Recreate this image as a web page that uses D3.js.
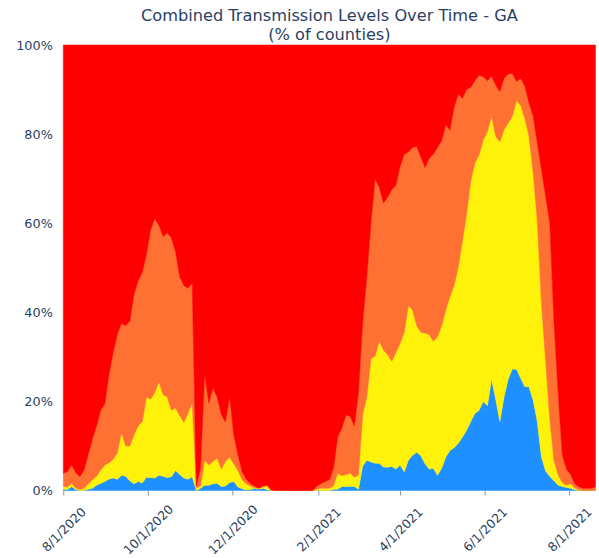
<!DOCTYPE html>
<html>
<head>
<meta charset="utf-8">
<script src="https://cdn.jsdelivr.net/npm/d3@7"></script>
<style>
    body { margin: 0; background: #fff; }
    #wrapper svg text { font-family: "DejaVu Sans", sans-serif; fill: #2a3f5f; }
</style>
</head>
<body>
<div id="wrapper"></div>
<script>
// Andel av countys per smittnivå (%), ett värde var tredje dag från 8/1/2020
const startDate = new Date(2020, 7, 1);
const stepDays = 3;

const low = [0.3, 0.2, 0.9, 0.2, 0, 0, 0.3, 0.5, 1.2, 1.6,
    2.0, 2.6, 2.8, 2.5, 3.4, 3.2, 2.2, 1.5, 2.0, 1.7,
    3.0, 2.9, 2.8, 3.4, 3.2, 2.9, 3.1, 4.5, 3.6, 2.8,
    2.5, 3.1, 0, 0.5, 1.2, 1.2, 1.5, 1.6, 0.9, 1.0,
    1.8, 2.0, 0.8, 0.4, 0.1, 0.2, 0.5, 0.3, 0.5, 0.2,
    0, 0, 0, 0, 0, 0, 0, 0, 0, 0,
    0, 0, 0, 0, 0, 0.3, 0.3, 0.9, 0.9, 0.9,
    0.9, 0.3, 5.5, 6.8, 6.4, 6.1, 6.1, 5.3, 5.2, 5.4,
    4.8, 5.7, 4.2, 6.8, 7.9, 8.6, 7.8, 6.0, 4.8, 5.0,
    3.4, 5.0, 7.5, 9.0, 9.6, 10.6, 12.0, 13.5, 15.5, 17.3,
    18.0, 20.0, 19.0, 25.0, 20.5, 15.5, 21.0, 25.0, 27.3, 27.2,
    25.2, 23.3, 23.3, 20.3, 15.5, 7.5, 4.4, 3.2, 2.2, 1.2,
    0.9, 0.7, 0.5, 0.2, 0, 0, 0, 0, 0];

const moderate = [0.6, 0.6, 0.7, 0.3, 0.2, 0.5, 1.2, 1.9, 2.0, 3.0,
    3.7, 3.6, 4.2, 6.0, 9.6, 6.8, 7.8, 11.0, 12.5, 13.8,
    18.0, 17.6, 19.2, 21.0, 18.3, 18.1, 14.9, 14.0, 13.2, 12.5,
    14.9, 16.5, 0.5, 0.5, 5.6, 4.5, 5.0, 5.7, 3.9, 5.5,
    5.7, 4.0, 3.7, 2.0, 1.4, 0.8, 0.1, 0.2, 0.3, 0.8,
    0.1, 0, 0, 0, 0, 0, 0, 0, 0, 0,
    0, 0.3, 0.5, 0.5, 0.5, 0.7, 3.6, 2.4, 2.7, 3.0,
    2.1, 3.2, 11.5, 14.2, 23.1, 24.1, 27.4, 26.2, 25.3, 23.6,
    26.2, 27.3, 31.3, 34.7, 32.6, 28.4, 27.7, 29.3, 30.2, 28.5,
    31.1, 32.0, 33.0, 34.5, 36.4, 39.6, 44.0, 48.5, 54.0, 56.2,
    57.3, 58.7, 61.5, 59.0, 59.0, 62.8, 60.0, 57.5, 56.7, 60.3,
    61.3, 60.2, 56.2, 51.0, 45.0, 34.5, 24.6, 12.8, 4.6, 2.3,
    0.9, 0.5, 1.0, 0.4, 0.1, 0, 0, 0, 0];

const substantial = [3.0, 3.4, 4.1, 3.5, 2.9, 4.1, 6.5, 9.1, 11.3, 13.4,
    13.8, 19.8, 24.0, 26.5, 24.5, 27.0, 28.0, 31.5, 32.5, 33.5,
    32.0, 38.0, 39.0, 35.1, 35.5, 36.8, 38.7, 35.0, 31.2, 30.7,
    28.0, 26.9, 0.5, 4.0, 19.2, 13.9, 16.5, 13.7, 12.2, 8.9,
    13.5, 6.5, 3.5, 1.8, 1.0, 0.5, 0.4, 0, 0.2, 0.2,
    0, 0, 0, 0, 0, 0, 0, 0, 0, 0,
    0, 0.7, 1.0, 1.5, 1.9, 4.0, 8.1, 10.7, 13.4, 12.7,
    11.5, 18.5, 20.5, 27.0, 30.5, 39.8, 34.5, 33.0, 35.3, 38.5,
    37.5, 39.7, 40.0, 34.5, 36.5, 40.2, 39.3, 37.2, 39.5, 42.0,
    42.5, 41.5, 41.5, 37.4, 40.0, 38.8, 32.0, 28.0, 21.0, 18.5,
    17.9, 14.2, 11.5, 9.0, 11.5, 11.2, 11.5, 11.0, 9.6, 4.3,
    6.0, 7.3, 7.5, 12.7, 17.5, 30.0, 37.0, 44.0, 31.2, 18.5,
    6.2, 3.6, 2.1, 0.9, 0.7, 0.5, 0.5, 0.5, 0.8];

const high = [96.1, 95.8, 94.3, 96.0, 96.9, 95.4, 92.0, 88.5, 85.5, 82.0,
    80.5, 74.0, 69.0, 65.0, 62.5, 63.0, 62.0, 56.0, 53.0, 51.0,
    47.0, 41.5, 39.0, 40.5, 43.0, 42.2, 43.3, 46.5, 52.0, 54.0,
    54.6, 53.5, 99.0, 95.0, 74.0, 80.4, 77.0, 79.0, 83.0, 84.6,
    79.0, 87.5, 92.0, 95.8, 97.5, 98.5, 99.0, 99.5, 99.0, 98.8,
    99.9, 100, 100, 100, 100, 100, 100, 100, 100, 100,
    100, 99.0, 98.5, 98.0, 97.6, 95.0, 88.0, 86.0, 83.0, 83.4,
    85.5, 78.0, 62.5, 52.0, 40.0, 30.0, 32.0, 35.5, 34.2, 32.5,
    31.5, 27.3, 24.5, 24.0, 23.0, 22.8, 25.2, 27.5, 25.5, 24.5,
    23.0, 21.5, 18.0, 19.1, 14.0, 11.0, 12.0, 10.0, 9.5, 8.0,
    6.8, 7.1, 8.0, 7.0, 9.0, 10.5, 7.5, 6.5, 6.4, 8.2,
    7.5, 9.2, 13.0, 16.0, 22.0, 28.0, 34.0, 40.0, 62.0, 78.0,
    92.0, 95.2, 96.4, 98.5, 99.2, 99.5, 99.5, 99.5, 99.2];

const levelNames = ["low", "moderate", "substantial", "high"];
const levelColors = ["#1E90FF", "#FFF20A", "#FF7033", "#FF0000"];

const yTickValues = [0, 0.2, 0.4, 0.6, 0.8, 1];
const xTickLabels = ["8/1/2020", "10/1/2020", "12/1/2020", "2/1/2021", "4/1/2021", "6/1/2021", "8/1/2021"];


function transmissionChart(parent) {

    const wsvg = 599;
    const hsvg = 558;

    const left = 63.3;
    const right = 595.5;
    const top = 45;
    const bottom = 490.5;

    const svg = d3.select(parent).append("svg")
        .attr("width", wsvg)
        .attr("height", hsvg)
        .attr("viewBox", `0 0 ${wsvg} ${hsvg}`);

    //DATA TILL RADER
    const rows = low.map((v, i) => ({
        date: d3.timeDay.offset(startDate, i * stepDays),
        low: v,
        moderate: moderate[i],
        substantial: substantial[i],
        high: high[i]
    }));

    const xScale = d3.scaleTime(d3.extent(rows, d => d.date), [left, right]);
    const yScale = d3.scaleLinear([0, 1], [bottom, top]);

    const stack = d3.stack()
        .keys(levelNames)
        .offset(d3.stackOffsetExpand);

    const area = d3.area()
        .x(d => xScale(d.data.date))
        .y0(d => yScale(d[0]))
        .y1(d => yScale(d[1]));

    svg.append("g")
        .selectAll("path")
        .data(stack(rows))
        .join("path")
        .attr("d", area)
        .attr("fill", (d, i) => levelColors[i])
        .attr("stroke", (d, i) => levelColors[i])
        .attr("stroke-width", 0.5);

    //AXLAR
    const parseDate = d3.timeParse("%m/%d/%Y");
    const xAxis = d3.axisBottom(xScale)
        .tickValues(xTickLabels.map(parseDate))
        .tickFormat(d3.timeFormat("%-m/%-d/%Y"))
        .tickSize(5)
        .tickPadding(0);

    const xAxisGroup = svg.append("g")
        .attr("transform", `translate(0, ${bottom})`)
        .call(xAxis);

    xAxisGroup.select(".domain").remove();
    xAxisGroup.selectAll(".tick line").attr("stroke", "#8592a6");
    xAxisGroup.selectAll(".tick text")
        .attr("font-size", 12.5)
        .attr("text-anchor", "middle")
        .attr("dy", null)
        .attr("y", null)
        .attr("dominant-baseline", "central")
        .attr("transform", "translate(0, 39) rotate(-45)");

    const yAxis = d3.axisLeft(yScale)
        .tickValues(yTickValues)
        .tickFormat(d3.format(".0%"))
        .tickSize(0)
        .tickPadding(10.5);

    const yAxisGroup = svg.append("g")
        .attr("transform", `translate(${left}, 0)`)
        .call(yAxis);

    yAxisGroup.select(".domain").remove();
    yAxisGroup.selectAll(".tick text").attr("font-size", 12.8);

    //TITEL
    const titleX = (left + right) / 2;
    svg.append("text")
        .attr("x", titleX)
        .attr("y", 15)
        .attr("text-anchor", "middle")
        .attr("dominant-baseline", "central")
        .attr("font-size", 16.2)
        .text("Combined Transmission Levels Over Time - GA");

    svg.append("text")
        .attr("x", titleX)
        .attr("y", 34)
        .attr("text-anchor", "middle")
        .attr("dominant-baseline", "central")
        .attr("font-size", 16.2)
        .text("(% of counties)");
}

transmissionChart(document.querySelector("#wrapper"));
</script>
</body>
</html>
